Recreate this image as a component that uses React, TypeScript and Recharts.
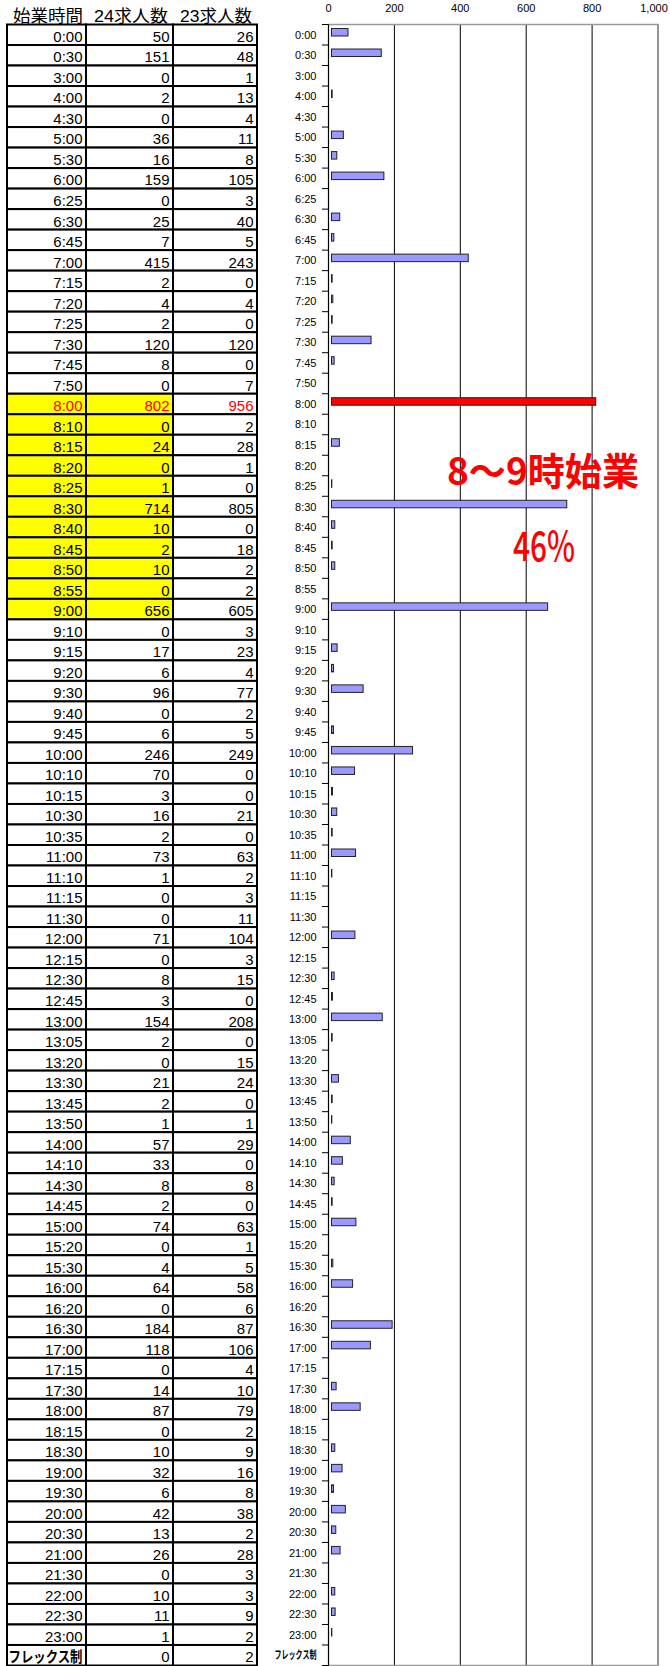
import { Bar, BarChart, CartesianGrid, ReferenceArea, XAxis, YAxis } from "recharts"

// 始業時間ごとの求人数 (24 = 今年, 23 = 前年)
const startTimes = [
  "0:00", "0:30", "3:00", "4:00", "4:30", "5:00", "5:30", "6:00", "6:25", "6:30",
  "6:45", "7:00", "7:15", "7:20", "7:25", "7:30", "7:45", "7:50", "8:00", "8:10",
  "8:15", "8:20", "8:25", "8:30", "8:40", "8:45", "8:50", "8:55", "9:00", "9:10",
  "9:15", "9:20", "9:30", "9:40", "9:45", "10:00", "10:10", "10:15", "10:30", "10:35",
  "11:00", "11:10", "11:15", "11:30", "12:00", "12:15", "12:30", "12:45", "13:00", "13:05",
  "13:20", "13:30", "13:45", "13:50", "14:00", "14:10", "14:30", "14:45", "15:00", "15:20",
  "15:30", "16:00", "16:20", "16:30", "17:00", "17:15", "17:30", "18:00", "18:15", "18:30",
  "19:00", "19:30", "20:00", "20:30", "21:00", "21:30", "22:00", "22:30", "23:00", "フレックス制",
]
const jobs24 = [
  50, 151, 0, 2, 0, 36, 16, 159, 0, 25,
  7, 415, 2, 4, 2, 120, 8, 0, 802, 0,
  24, 0, 1, 714, 10, 2, 10, 0, 656, 0,
  17, 6, 96, 0, 6, 246, 70, 3, 16, 2,
  73, 1, 0, 0, 71, 0, 8, 3, 154, 2,
  0, 21, 2, 1, 57, 33, 8, 2, 74, 0,
  4, 64, 0, 184, 118, 0, 14, 87, 0, 10,
  32, 6, 42, 13, 26, 0, 10, 11, 1, 0,
]
const jobs23 = [
  26, 48, 1, 13, 4, 11, 8, 105, 3, 40,
  5, 243, 0, 4, 0, 120, 0, 7, 956, 2,
  28, 1, 0, 805, 0, 18, 2, 2, 605, 3,
  23, 4, 77, 2, 5, 249, 0, 0, 21, 0,
  63, 2, 3, 11, 104, 3, 15, 0, 208, 0,
  15, 24, 0, 1, 29, 0, 8, 0, 63, 1,
  5, 58, 6, 87, 106, 4, 10, 79, 2, 9,
  16, 8, 38, 2, 28, 3, 3, 9, 2, 2,
]
const valueTicks = [0, 200, 400, 600, 800, 1000]
const headers = ["始業時間", "24求人数", "23求人数"]
const highlightFrom = "8:00"
const highlightTo = "9:00"
const peakTime = "8:00"
const noteTitle = "8〜9時始業"
const noteShare = "46%"

const W = 670
const H = 1666
const PLOT_TOP = 24.5
const PLOT_BOTTOM = 1665.5
const AXIS_X = 328.5
const PLOT_RIGHT = 658
const ROW_H = (PLOT_BOTTOM - PLOT_TOP) / startTimes.length
const COLS = [7, 86, 173, 257]
const FONT = "'Liberation Sans', Arial, 'Noto Sans CJK JP', sans-serif"
const JP = "'Noto Sans CJK JP', sans-serif"

const hlStart = startTimes.indexOf(highlightFrom)
const hlEnd = startTimes.indexOf(highlightTo)

const rows = startTimes.map((time, i) => ({ time, v24: jobs24[i], v23: jobs23[i] }))

const TableTick = (props: any) => {
  const { y, payload } = props
  const i = startTimes.indexOf(payload.value)
  const top = y - ROW_H / 2
  const hl = i >= hlStart && i <= hlEnd
  const peak = payload.value === peakTime
  const flex = i === startTimes.length - 1
  const cells = [payload.value, jobs24[i], jobs23[i]]
  return (
    <g>
      {cells.map((c, k) => (
        <g key={k}>
          <rect
            x={COLS[k]}
            y={top}
            width={COLS[k + 1] - COLS[k]}
            height={ROW_H}
            fill={hl && k < 2 ? "#FFFF00" : "#FFFFFF"}
            stroke="#000"
            strokeWidth={2}
          />
          <text
            x={COLS[k + 1] - 3.5}
            y={top + 17.4}
            textAnchor="end"
            fontSize={15}
            fontFamily={flex && k === 0 ? JP : FONT}
            fontWeight={flex && k === 0 ? 700 : 400}
            fill={peak ? "#FF0000" : "#000"}
            {...(flex && k === 0 ? { textLength: 74, lengthAdjust: "spacingAndGlyphs" } : {})}
          >
            {c}
          </text>
        </g>
      ))}
      <text
        x={316.5}
        y={y + 4}
        textAnchor="end"
        fontSize={flex ? 11.5 : 11}
        fontFamily={flex ? JP : FONT}
        fontWeight={flex ? 700 : 400}
        fill="#000"
        {...(flex ? { textLength: 42, lengthAdjust: "spacingAndGlyphs" } : {})}
      >
        {payload.value}
      </text>
      <line x1={322} x2={AXIS_X} y1={top} y2={top} stroke="#000" />
      {flex && <line x1={322} x2={AXIS_X} y1={top + ROW_H} y2={top + ROW_H} stroke="#000" />}
    </g>
  )
}

const ValueTick = (props: any) => {
  const { x, payload } = props
  return (
    <text x={x} y={12} textAnchor="middle" fontSize={11} fontFamily={FONT} fill="#000">
      {Number(payload.value).toLocaleString("en-US")}
    </text>
  )
}

const BarShape = (p: any) => {
  const { x, y, width, height, payload } = p
  if (!width || width <= 0) return <g />
  return (
    <rect
      x={x + 3}
      y={y - 3}
      width={width}
      height={height}
      fill={payload.time === peakTime ? "#FF0000" : "#9999FF"}
      stroke="#222"
      strokeWidth={1}
    />
  )
}

const App = () => {
  return (
    <div style={{ position: "absolute", left: 0, top: 0, width: W, height: H, background: "#fff", overflow: "hidden" }}>
      <BarChart
        width={W}
        height={H}
        data={rows}
        layout="vertical"
        margin={{ top: 0, right: W - PLOT_RIGHT, bottom: H - PLOT_BOTTOM, left: 0 }}
        barSize={7.5}
      >
        <CartesianGrid horizontal={false} stroke="#000" strokeWidth={1} />
        <ReferenceArea x1={0} x2={1000} fill="none" stroke="#999" strokeWidth={1.5} />
        <XAxis
          type="number"
          orientation="top"
          domain={[0, 1000]}
          ticks={valueTicks}
          height={PLOT_TOP}
          axisLine={false}
          tickLine={false}
          tick={(p: any) => <ValueTick {...p} />}
        />
        <YAxis
          type="category"
          dataKey="time"
          width={AXIS_X}
          interval={0}
          axisLine={{ stroke: "#000", strokeWidth: 1 }}
          tickLine={false}
          tick={(p: any) => <TableTick {...p} />}
        />
        <Bar dataKey="v24" isAnimationActive={false} shape={(p: any) => <BarShape {...p} />} />
      </BarChart>

      <svg width={W} height={H} style={{ position: "absolute", left: 0, top: 0, pointerEvents: "none" }}>
        <text x={13} y={22} fontSize={16.5} fontFamily={FONT} fill="#000" textLength={70} lengthAdjust="spacingAndGlyphs">
          {headers[0]}
        </text>
        <text x={94} y={22} fontSize={16.5} fontFamily={FONT} fill="#000" textLength={74} lengthAdjust="spacingAndGlyphs">
          {headers[1]}
        </text>
        <text x={180} y={22} fontSize={16.5} fontFamily={FONT} fill="#000" textLength={72} lengthAdjust="spacingAndGlyphs">
          {headers[2]}
        </text>
        <text
          x={447}
          y={485}
          fontSize={38}
          fontWeight={700}
          fontFamily={JP}
          fill="#FF0000"
          textLength={192}
          lengthAdjust="spacingAndGlyphs"
        >
          {noteTitle}
        </text>
        <text
          x={513}
          y={561}
          fontSize={41}
          fontWeight={500}
          fontFamily={JP}
          fill="#FF0000"
          textLength={62}
          lengthAdjust="spacingAndGlyphs"
        >
          {noteShare}
        </text>
      </svg>
    </div>
  )
}

export default App
